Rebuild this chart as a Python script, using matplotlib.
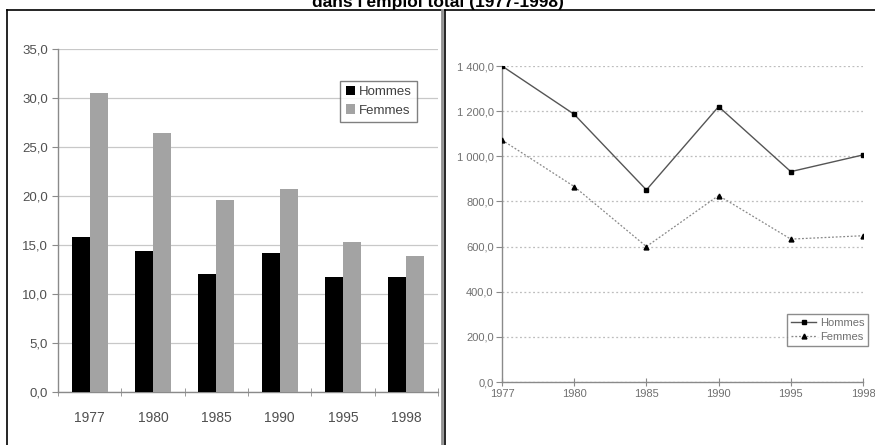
import matplotlib
matplotlib.use("Agg")
import matplotlib.pyplot as plt
from matplotlib.lines import Line2D
from matplotlib.ticker import FuncFormatter
import numpy as np

plt.rcParams["font.family"] = ["Liberation Sans", "DejaVu Sans"]

years = ["1977", "1980", "1985", "1990", "1995", "1998"]
# taux (%) - graphique de gauche
taux_hommes = [15.8, 14.4, 12.0, 14.2, 11.7, 11.7]
taux_femmes = [30.5, 26.4, 19.6, 20.7, 15.3, 13.9]
# effectifs - graphique de droite
eff_hommes = [1400, 1186, 851, 1220, 932, 1006]
eff_femmes = [1072, 866, 600, 826, 633, 648]

title = "dans l'emploi total (1977-1998)"

W, H = 875, 445
fig = plt.figure(figsize=(W / 100, H / 100), dpi=100)

def fx(px):
    return px / W

def fy(py):
    return 1 - py / H

tick_col = "#505050"
axis_col = "#8a8a8a"

# title, cut at top edge like the source
fig.text(0.5, fy(7), title, ha="center", va="baseline",
         fontsize=12.5, fontweight="bold")

# panel frames
for xs, ys, c, lw in [
    ([7, 7], [10, 445], "black", 1.2),
    ([7, 441], [10, 10], "black", 1.2),
    ([442, 442], [10, 445], "#909090", 2.0),
    ([445, 445], [10, 445], "black", 1.2),
    ([445, 875], [10, 10], "black", 1.2),
]:
    fig.add_artist(Line2D([fx(x) for x in xs], [fy(y) for y in ys],
                          color=c, lw=lw, transform=fig.transFigure))

def fr(v, pos=None):
    s = f"{v:,.1f}"
    return s.replace(",", " ").replace(".", ",")

# ---- left: bars ----
ax1 = fig.add_axes([fx(58), fy(392), fx(438) - fx(58), fy(49) - fy(392)])
x = np.arange(len(years))
bw = 0.285
ax1.bar(x - bw / 2, taux_hommes, bw, color="black", label="Hommes", zorder=3)
ax1.bar(x + bw / 2, taux_femmes, bw, color="#a3a3a3", label="Femmes", zorder=3)
ax1.set_xlim(-0.5, len(years) - 0.5)
ax1.set_ylim(0, 35)
ax1.set_yticks(np.arange(0, 36, 5))
ax1.yaxis.set_major_formatter(FuncFormatter(fr))
ax1.set_xticks(x)
ax1.set_xticklabels(years)
ax1.set_xticks(np.arange(-0.5, len(years), 1), minor=True)
ax1.tick_params(axis="x", which="major", length=0, pad=14, labelsize=10, labelcolor=tick_col)
ax1.tick_params(axis="x", which="minor", length=6, direction="inout", color=axis_col)
ax1.tick_params(axis="y", length=4, direction="out", color=axis_col, labelsize=9.5,
                labelcolor=tick_col, pad=3)
ax1.grid(axis="y", color="#c8c8c8", lw=0.9, zorder=0)
for s in ["top", "right"]:
    ax1.spines[s].set_visible(False)
for s in ["left", "bottom"]:
    ax1.spines[s].set_color(axis_col)
    ax1.spines[s].set_linewidth(1.0)
leg1 = ax1.legend(loc="upper right", bbox_to_anchor=(0.945, 0.907), fontsize=9.5,
                  frameon=True, fancybox=False, handlelength=0.7, handleheight=0.7,
                  handletextpad=0.3, borderpad=0.4, labelspacing=0.45, borderaxespad=0)
leg1.get_frame().set_edgecolor("#606060")
leg1.get_frame().set_linewidth(1.0)
for t in leg1.get_texts():
    t.set_color("#404040")

# ---- right: lines ----
ax2 = fig.add_axes([fx(502), fy(382), fx(863) - fx(502), fy(66) - fy(382)])
ax2.plot(x, eff_hommes, color="#555555", lw=1.0, marker="s", ms=3.5,
         mfc="black", mec="black", label="Hommes", zorder=3)
ax2.plot(x, eff_femmes, color="#888888", lw=0.9, ls=(0, (1.5, 1.5)), marker="^", ms=3.5,
         mfc="black", mec="black", label="Femmes", zorder=3)
ax2.set_xlim(0, len(years) - 1)
ax2.set_ylim(0, 1400)
ax2.set_yticks(np.arange(0, 1401, 200))
ax2.yaxis.set_major_formatter(FuncFormatter(fr))
ax2.set_xticks(x)
ax2.set_xticklabels(years)
ax2.tick_params(axis="x", length=6, direction="inout", color=axis_col, labelsize=8,
                labelcolor="#707070", pad=2)
ax2.tick_params(axis="y", length=4, direction="out", color=axis_col, labelsize=8,
                labelcolor="#707070", pad=2)
ax2.grid(axis="y", color="#bdbdbd", lw=0.9, ls=(0, (1.5, 2)), zorder=0)
for s in ["top", "right"]:
    ax2.spines[s].set_visible(False)
for s in ["left", "bottom"]:
    ax2.spines[s].set_color(axis_col)
    ax2.spines[s].set_linewidth(1.0)
for lab in ax2.get_xticklabels():
    lab.set_clip_on(False)
leg2 = ax2.legend(loc="lower right", bbox_to_anchor=(1.014, 0.114), fontsize=8,
                  frameon=True, fancybox=False, handlelength=2.3,
                  handletextpad=0.3, borderpad=0.35, labelspacing=0.4, borderaxespad=0)
leg2.get_frame().set_edgecolor("#707070")
leg2.get_frame().set_linewidth(1.0)
for t in leg2.get_texts():
    t.set_color("#707070")

fig.savefig("out.png", dpi=100)
